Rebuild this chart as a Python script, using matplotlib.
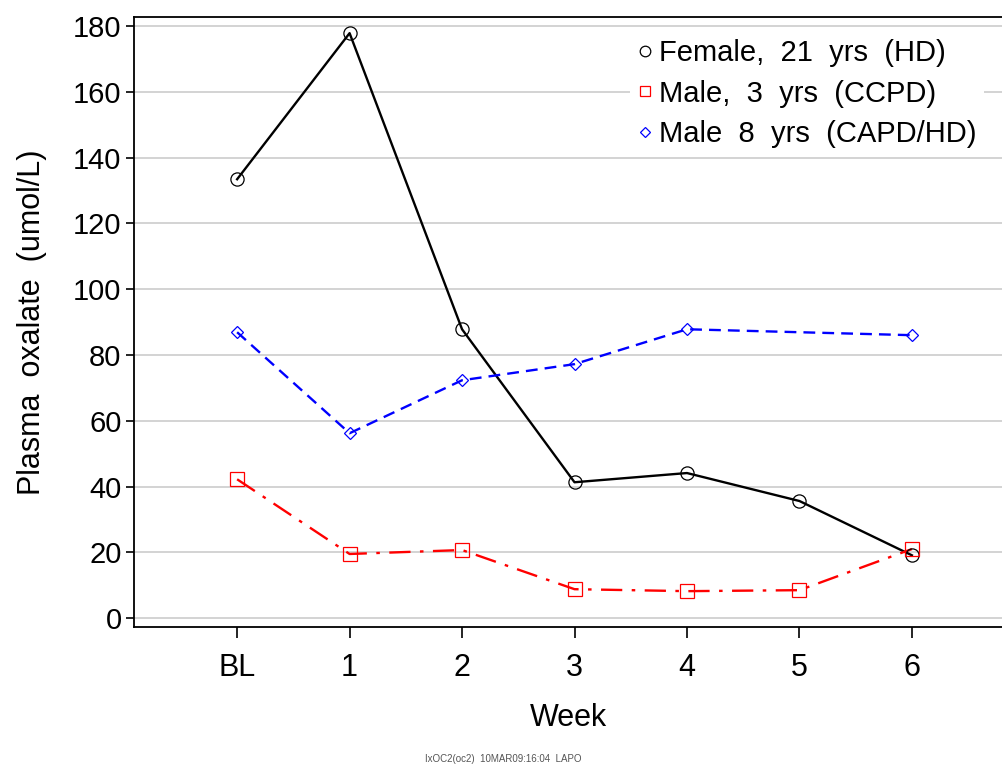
import matplotlib
matplotlib.use("Agg")
import matplotlib.pyplot as plt
import numpy as np

plt.rcParams['font.family'] = ['Liberation Sans', 'DejaVu Sans']

weeks = ["BL", "1", "2", "3", "4", "5", "6"]
female_21 = [133.4, 177.8, 87.8, 41.3, 44.1, 35.6, 19.1]
male_3 = [42.2, 19.5, 20.7, 8.8, 8.2, 8.5, 21.0]
male_8_weeks = ["BL", "1", "2", "3", "4", "6"]
male_8 = [86.9, 56.2, 72.3, 77.2, 87.8, 86.0]
labels = ["Female,  21  yrs  (HD)", "Male,  3  yrs  (CCPD)", "Male  8  yrs  (CAPD/HD)"]
yticks = [0, 20, 40, 60, 80, 100, 120, 140, 160, 180]

fig = plt.figure(figsize=(10.03, 7.67), dpi=100)
ax = fig.add_axes([0.1336, 0.1825, 0.8664, 0.7953])

pos = {w: i for i, w in enumerate(weeks)}
x_all = [pos[w] for w in weeks]
x_m8 = [pos[w] for w in male_8_weeks]

ax.plot(x_all, female_21, color='black', lw=1.7, ls='-', zorder=3)
ax.plot(x_all, female_21, ls='none', marker='o', ms=9.5, mfc='none', mec='black', mew=0.9, zorder=4, label=labels[0])
ax.plot(x_all, male_3, color='red', lw=1.7, ls=(0, (9, 4, 1.5, 4)), zorder=3)
ax.plot(x_all, male_3, ls='none', marker='s', ms=9.5, mfc='none', mec='red', mew=0.9, zorder=4, label=labels[1])
ax.plot(x_m8, male_8, color='blue', lw=1.7, ls=(0, (5, 3)), zorder=3)
ax.plot(x_m8, male_8, ls='none', marker='D', ms=6.5, mfc='none', mec='blue', mew=0.9, zorder=4, label=labels[2])

ax.set_xlim(-0.917, 6.81)
ax.set_ylim(-2.7, 182.7)
ax.set_xticks(range(len(weeks)))
ax.set_xticklabels(weeks)
ax.set_yticks(yticks)
ax.yaxis.grid(True, color='#d3d3d3', lw=1.4, zorder=0)
ax.set_axisbelow(True)

for s in ['left', 'bottom', 'top']:
    ax.spines[s].set_linewidth(1.3)
ax.spines['right'].set_visible(False)

ax.tick_params(axis='y', labelsize=21, length=6, pad=3, width=1.2)
ax.tick_params(axis='x', labelsize=22, length=8, pad=11, width=1.2)

ax.set_xlabel("Week", fontsize=22, labelpad=14)
ax.set_ylabel("Plasma  oxalate  (umol/L)", fontsize=22, labelpad=19)

leg = ax.legend(loc='upper right', bbox_to_anchor=(0.985, 0.985), fontsize=21, frameon=True,
                handlelength=0.5, handletextpad=0.25, borderpad=0.25, labelspacing=0.42,
                markerscale=0.8, borderaxespad=0.2)
leg.get_frame().set_facecolor('white')
leg.get_frame().set_edgecolor('none')
leg.get_frame().set_alpha(1.0)

fig.text(0.502, 0.004, "IxOC2(oc2)  10MAR09:16:04  LAPO", fontsize=7, color='#555555', ha='center', va='bottom')

fig.savefig("out.png", dpi=100)
